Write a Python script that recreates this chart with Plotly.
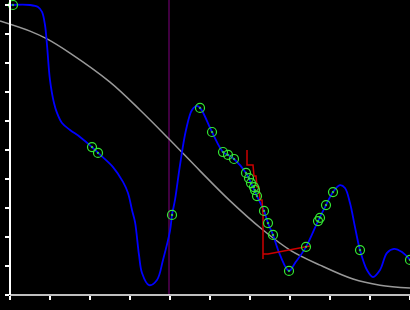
import plotly.graph_objects as go

# Blue smooth curve knots
blue_x = [0, 0.5, 0.7, 0.8, 0.875, 0.925, 1.0, 1.1, 1.175, 1.3, 1.5, 1.75, 2.05, 2.2,
          2.575, 2.825, 2.95, 3.05, 3.125, 3.225, 3.3, 3.475, 3.675, 3.825, 4.0, 4.05,
          4.125, 4.25, 4.4, 4.55, 4.675, 4.775, 5.05, 5.325, 5.45, 5.6, 5.9, 6.025,
          6.175, 6.35, 6.45, 6.575, 6.75, 6.975, 7.125, 7.4, 7.7, 7.9, 8.075, 8.25,
          8.375, 8.5, 8.625, 8.75, 8.925, 9.075, 9.25, 9.425, 9.6, 9.8, 10.0]
blue_y = [10.0, 10.0, 9.93, 9.76, 9.31, 8.62, 7.41, 6.62, 6.28, 5.93, 5.69, 5.45, 5.10, 4.90,
          4.41, 3.90, 3.52, 2.93, 2.52, 1.38, 0.76, 0.34, 0.52, 1.21, 2.21, 2.76,
          3.28, 4.48, 5.69, 6.38, 6.52, 6.41, 5.62, 4.93, 4.83, 4.69, 4.21, 3.86,
          3.41, 2.90, 2.48, 2.07, 1.38, 0.83, 1.10, 1.66, 2.55, 3.10, 3.55, 3.79,
          3.69, 3.17, 2.34, 1.55, 0.86, 0.62, 0.86, 1.45, 1.59, 1.48, 1.21]

# Green sample points
pts_x = [0.075, 2.05, 2.2, 4.05, 4.75, 5.05, 5.325, 5.45, 5.6, 5.9, 5.975, 6.025, 6.1,
         6.125, 6.175, 6.35, 6.45, 6.575, 6.975, 7.4, 7.7, 7.75, 7.9, 8.075, 8.75, 10.0]
pts_y = [10.0, 5.10, 4.90, 2.76, 6.45, 5.62, 4.93, 4.83, 4.69, 4.21, 4.03, 3.86, 3.72,
         3.62, 3.41, 2.90, 2.48, 2.07, 0.83, 1.66, 2.55, 2.66, 3.10, 3.55, 1.55, 1.21]

# Gray smooth trend
gray_x = [-0.25, 0.5, 0.925, 1.5, 2.5, 3.25, 3.975, 4.75, 5.475, 6.325, 7.0, 7.75, 8.575, 9.25, 10.0]
gray_y = [9.45, 9.10, 8.83, 8.34, 7.34, 6.38, 5.38, 4.28, 3.28, 2.24, 1.55, 1.03, 0.55, 0.34, 0.24]

# Red step line
red1_x = [5.925, 5.925, 6.075, 6.1, 6.15, 6.175, 6.225, 6.25, 6.3, 6.325, 6.325]
red1_y = [5.0, 4.48, 4.48, 4.10, 4.10, 3.72, 3.72, 3.28, 3.28, 2.76, 1.24]
red2_x = [6.325, 6.45, 7.5]
red2_y = [1.41, 1.41, 1.69]

# Vertical marker
vline_x = 3.975

YMAX = 10.172

fig = go.Figure()
fig.add_trace(go.Scatter(x=[vline_x, vline_x], y=[0, YMAX], mode="lines",
                         line=dict(color="#800080", width=1), hoverinfo="skip"))
fig.add_trace(go.Scatter(x=gray_x, y=gray_y, mode="lines", line=dict(color="#999999", width=1.5, shape="spline")))
fig.add_trace(go.Scatter(x=blue_x, y=blue_y, mode="lines", line=dict(color="#0000ff", width=1.8, shape="spline")))
fig.add_trace(go.Scatter(x=red1_x, y=red1_y, mode="lines", line=dict(color="#cc0000", width=1.5)))
fig.add_trace(go.Scatter(x=red2_x, y=red2_y, mode="lines", line=dict(color="#cc0000", width=1.5)))
fig.add_trace(go.Scatter(x=pts_x, y=pts_y, mode="markers",
                         marker=dict(symbol="circle-open-dot", size=9, color="#33e833", line=dict(width=1.2, color="#33e833"))))

fig.add_shape(type="line", xref="paper", yref="paper", x0=10/410, x1=1, y0=0, y1=0,
              line=dict(color="white", width=1.5))

fig.update_layout(width=410, height=310, margin=dict(l=0, r=0, t=0, b=15),
                  paper_bgcolor="black", plot_bgcolor="black", showlegend=False)
fig.update_xaxes(range=[-0.25, 10], showgrid=False, zeroline=False, showline=False,
                 ticks="outside", ticklen=4, tickwidth=1.5, tickcolor="white",
                 tick0=0, dtick=1, showticklabels=False)
fig.update_yaxes(range=[0, YMAX], showgrid=False, zeroline=False, showline=True,
                 linecolor="white", linewidth=1.5, anchor="free", position=10/410,
                 ticks="outside", ticklen=4, tickwidth=1.5, tickcolor="white",
                 tick0=0, dtick=1, showticklabels=False)
fig.write_html("out.html")
